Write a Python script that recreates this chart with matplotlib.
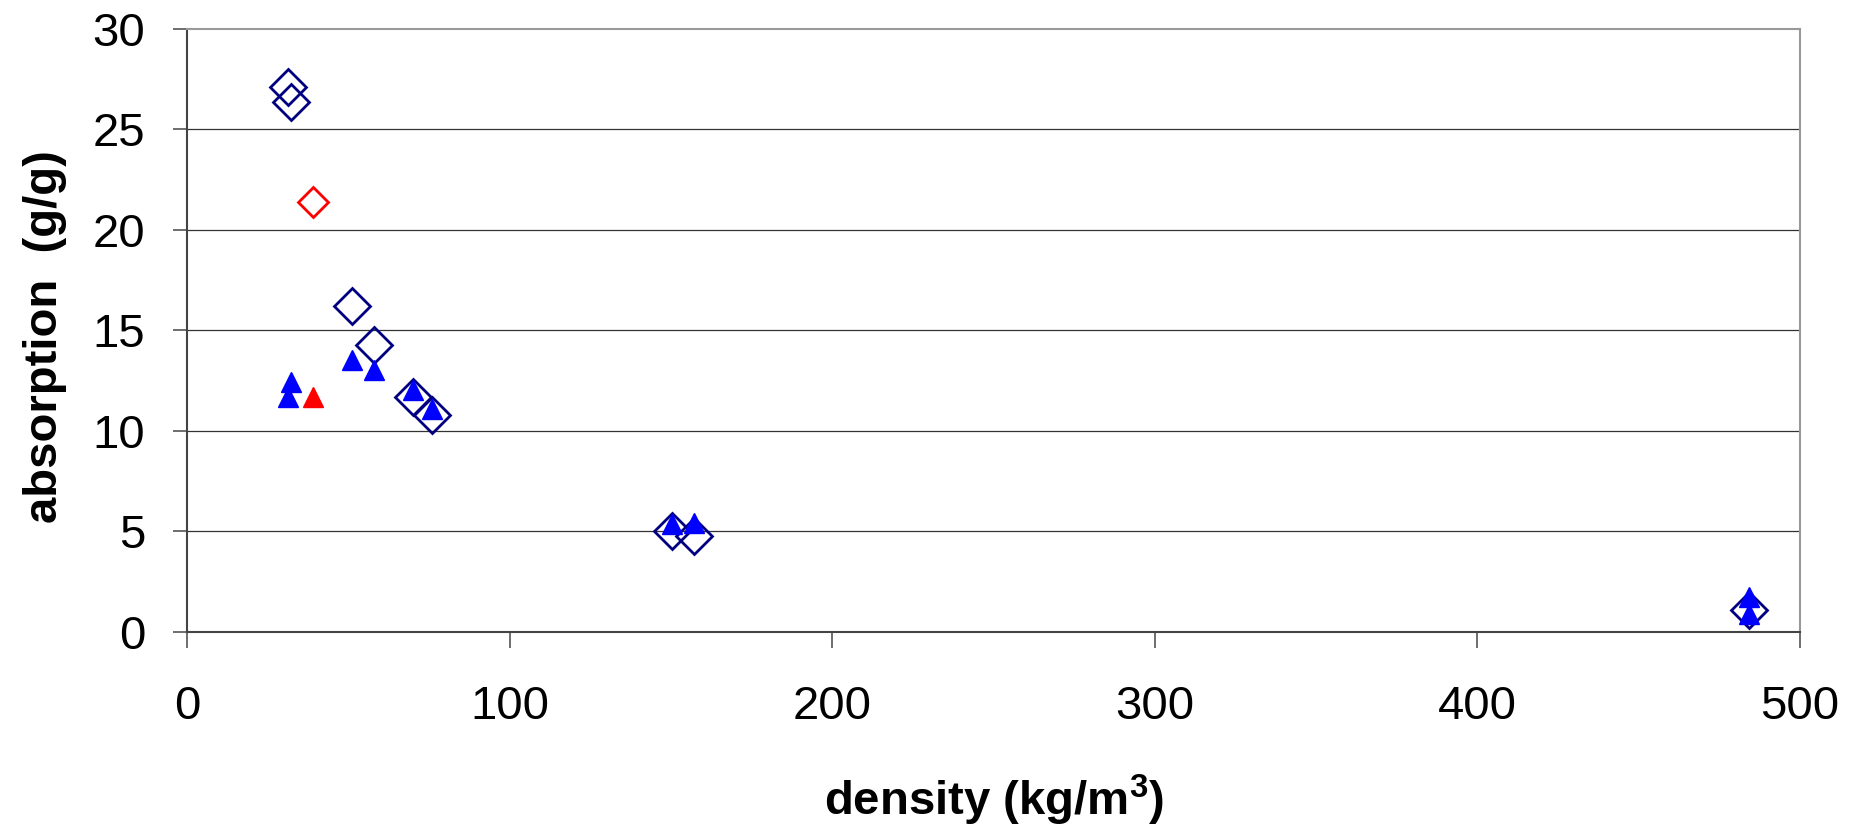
import matplotlib
matplotlib.use('Agg')
import matplotlib.pyplot as plt

plt.rcParams['font.family'] = ['Liberation Sans', 'DejaVu Sans']
plt.rcParams['mathtext.fontset'] = 'custom'
plt.rcParams['mathtext.rm'] = 'Liberation Sans'
plt.rcParams['mathtext.bf'] = 'Liberation Sans:bold'

# open diamonds (dark blue)
dia_x = [31.4, 32.3, 51.2, 57.9, 70.0, 75.8, 150.4, 157.2, 484.1]
dia_y = [27.13, 26.39, 16.24, 14.29, 11.70, 10.78, 5.00, 4.78, 1.10]

# open diamond (red)
dia_red_x = [38.9]
dia_red_y = [21.39]

# filled triangles (blue)
tri_x = [32.2, 31.4, 51.2, 57.9, 70.0, 75.8, 150.4, 157.0, 484.1, 484.1]
tri_y = [12.45, 11.70, 13.51, 13.03, 12.02, 11.11, 5.36, 5.44, 1.72, 0.89]

# filled triangle (red)
tri_red_x = [38.9]
tri_red_y = [11.70]

x_ticks = [0, 100, 200, 300, 400, 500]
y_ticks = [0, 5, 10, 15, 20, 25, 30]

fig = plt.figure(figsize=(18.63, 8.26), dpi=100)
ax = fig.add_axes([0.1004, 0.2349, 0.8658, 0.7300])

for y in y_ticks[1:-1]:
    ax.axhline(y, color='#333333', lw=0.9, zorder=1)

ax.plot(dia_x, dia_y, linestyle='none', marker='D', ms=18, mfc='none',
        mec='#000080', mew=2.0, zorder=3)
ax.plot(dia_red_x, dia_red_y, linestyle='none', marker='D', ms=15, mfc='none',
        mec='#FF0000', mew=2.0, zorder=3)
ax.plot(tri_x, tri_y, linestyle='none', marker='^', ms=15, mfc='#0000FF',
        mec='#0000FF', mew=1.0, zorder=4)
ax.plot(tri_red_x, tri_red_y, linestyle='none', marker='^', ms=15, mfc='#FF0000',
        mec='#FF0000', mew=1.0, zorder=4)

ax.set_xlim(0, 500)
ax.set_ylim(0, 30)
ax.set_xticks(x_ticks)
ax.set_yticks(y_ticks)

for side in ['top', 'right']:
    ax.spines[side].set_color('#999999')
    ax.spines[side].set_linewidth(1.5)
for side in ['left', 'bottom']:
    ax.spines[side].set_color('#444444')
    ax.spines[side].set_linewidth(1.5)

ax.tick_params(axis='both', direction='out', width=1.2,
               color='#555555', labelsize=34)
ax.tick_params(axis='y', length=10, pad=20)
ax.tick_params(axis='x', length=11.5, pad=27)

ax.set_xlabel(r'density (kg/m$^{\mathbf{3}}$)', fontsize=34, fontweight='bold')
ax.set_ylabel('absorption  (g/g)', fontsize=34, fontweight='bold')
ax.xaxis.set_label_coords(0.5, -0.28)
ax.yaxis.set_label_coords(-0.088, 0.49)
ax.yaxis.label.set_va('center')
ax.xaxis.label.set_va('center')

fig.savefig('out.png', dpi=100)
